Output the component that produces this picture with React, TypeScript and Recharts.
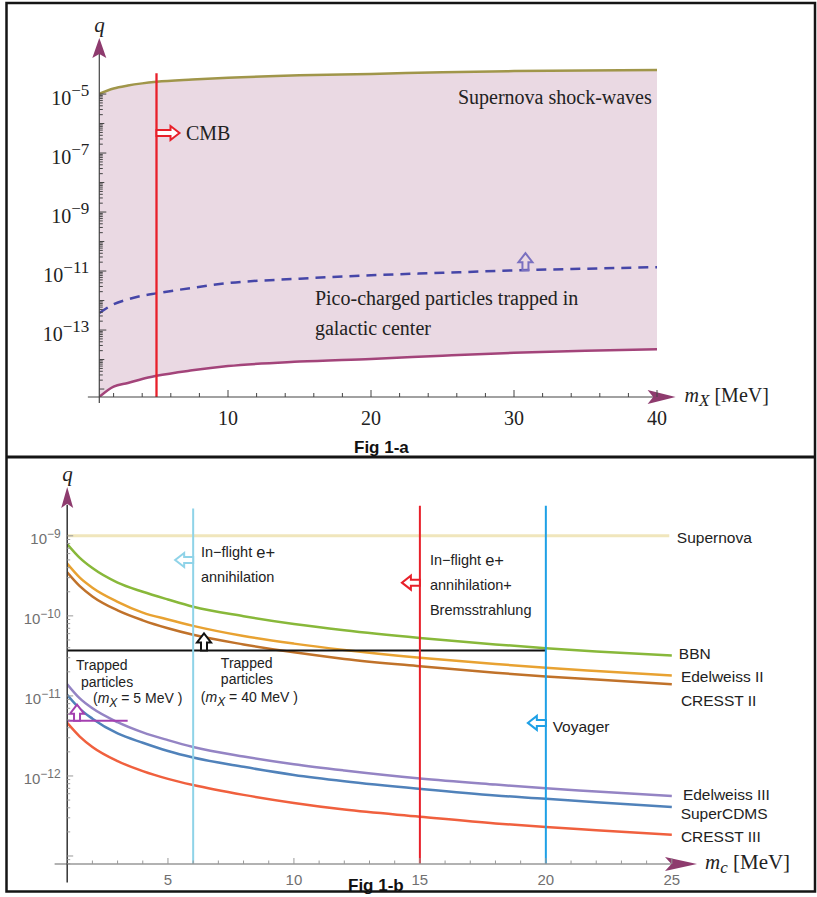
import React from "react";
import {
  Area,
  ComposedChart,
  Line,
  ReferenceDot,
  ReferenceLine,
  XAxis,
  YAxis,
} from "recharts";

const SERIF = "'Liberation Serif', 'Times New Roman', serif";
const SANS = "'Liberation Sans', Arial, sans-serif";

// ---------- Fig 1-a : q vs m_X ----------
const MX = [1, 2, 3, 4, 5, 7.5, 10, 15, 20, 25, 30, 35, 40];
const SN_SHOCK = [1.02e-5, 1.55e-5, 1.95e-5, 2.3e-5, 2.6e-5, 3.1e-5, 3.55e-5, 4.3e-5, 4.8e-5, 5.5e-5, 6.0e-5, 6.3e-5, 6.5e-5];
const PICO_GC = [3.8e-13, 7.5e-13, 1.1e-12, 1.45e-12, 1.75e-12, 2.7e-12, 3.9e-12, 5.5e-12, 7.2e-12, 8.7e-12, 1.05e-11, 1.2e-11, 1.35e-11];
const TRAPPED_LOW = [5.4e-16, 1.2e-15, 1.6e-15, 2.2e-15, 2.8e-15, 4.3e-15, 6.0e-15, 8.5e-15, 1.05e-14, 1.35e-14, 1.7e-14, 2.0e-14, 2.25e-14];
const CMB_MASS = 5;
const CMB_TOP = 5.1e-5;

const A_X_DOMAIN = [1, 41.3];
const A_Y_DOMAIN = [Math.pow(10, -15.27), Math.pow(10, -3.1)];
const A_X_TICKS = [2, 4, 6, 8, 10, 12, 14, 16, 18, 20, 22, 24, 26, 28, 30, 32, 34, 36, 38, 40];
const A_X_LABELS = [10, 20, 30, 40];
const A_Y_DECADES = [-15, -14, -13, -12, -11, -10, -9, -8, -7, -6, -5];
const A_Y_LABELS = [-13, -11, -9, -7, -5];

// ---------- Fig 1-b : q vs m_c ----------
const MC = [1, 1.5, 2, 3, 4, 5, 6, 8, 10, 12, 15, 18, 20, 22, 25];
const BBN = [7.9e-10, 5.3e-10, 3.95e-10, 2.6e-10, 2.0e-10, 1.6e-10, 1.3e-10, 9.9e-11, 7.9e-11, 6.6e-11, 5.3e-11, 4.4e-11, 3.95e-11, 3.6e-11, 3.2e-11];
const EDELWEISS_II = [4.5e-10, 3.0e-10, 2.25e-10, 1.5e-10, 1.1e-10, 9.0e-11, 7.5e-11, 5.6e-11, 4.5e-11, 3.75e-11, 3.0e-11, 2.5e-11, 2.25e-11, 2.05e-11, 1.8e-11];
const CRESST_II = [3.5e-10, 2.35e-10, 1.75e-10, 1.17e-10, 8.8e-11, 7.0e-11, 5.8e-11, 4.4e-11, 3.5e-11, 2.9e-11, 2.35e-11, 1.95e-11, 1.75e-11, 1.6e-11, 1.4e-11];
const EDELWEISS_III = [1.4e-11, 9.3e-12, 7.0e-12, 4.7e-12, 3.5e-12, 2.8e-12, 2.3e-12, 1.75e-12, 1.4e-12, 1.17e-12, 9.3e-13, 7.8e-13, 7.0e-13, 6.4e-13, 5.6e-13];
const SUPER_CDMS = [1.03e-11, 6.9e-12, 5.2e-12, 3.4e-12, 2.6e-12, 2.05e-12, 1.7e-12, 1.3e-12, 1.03e-12, 8.6e-13, 6.9e-13, 5.7e-13, 5.2e-13, 4.7e-13, 4.1e-13];
const CRESST_III = [4.6e-12, 3.1e-12, 2.3e-12, 1.53e-12, 1.15e-12, 9.2e-13, 7.7e-13, 5.8e-13, 4.6e-13, 3.8e-13, 3.1e-13, 2.55e-13, 2.3e-13, 2.1e-13, 1.84e-13];
const SUPERNOVA_Q = 1e-9;
const SUPERNOVA_END = 24.9;
const TRAPPED_40_Q = 3.7e-11; // m_X = 40 MeV bound, drawn up to Voyager
const TRAPPED_5_Q = 4.9e-12; // m_X = 5 MeV bound
const TRAPPED_5_END = 3.4;
const INFLIGHT_MASS = 6;
const BREMS_MASS = 15;
const VOYAGER_MASS = 20;

const B_X_DOMAIN = [1, 26];
const B_Y_DOMAIN = [Math.pow(10, -13.1), Math.pow(10, -8.39)];
const B_X_TICKS = [2, 3, 4, 5, 6, 7, 8, 9, 10, 11, 12, 13, 14, 15, 16, 17, 18, 19, 20, 21, 22, 23, 24, 25];
const B_X_LABELS = [5, 10, 15, 20, 25];
const B_Y_DECADES = [-14, -13, -12, -11, -10, -9];
const B_Y_LABELS = [-12, -11, -10, -9];

function logTicks(decades: number[], domain: number[]) {
  const out: number[] = [];
  decades.forEach((d, i) => {
    out.push(Math.pow(10, d));
    if (i < decades.length - 1) {
      for (let k = 2; k <= 9; k++) out.push(k * Math.pow(10, d));
    }
  });
  return out.filter((v) => v >= domain[0] && v <= domain[1]);
}

const aRows = MX.map((m, i) => ({ m, band: [TRAPPED_LOW[i], SN_SHOCK[i]] }));
const aLine = (vals: number[]) => MX.map((m, i) => ({ m, q: vals[i] }));
const bLine = (vals: number[]) => MC.map((m, i) => ({ m, q: vals[i] }));

function decadeOf(v: number) {
  const lg = Math.log10(v);
  const d = Math.round(lg);
  return { d, isDecade: Math.abs(lg - d) < 1e-6 };
}

// ---------- tick renderers (Mathematica style: ticks point inward) ----------
function AXTick(p: any) {
  const v = p.payload.value;
  const major = v % 10 === 0;
  return (
    <g>
      <line x1={p.x} x2={p.x} y1={p.y} y2={p.y - (major ? 7 : 4)} stroke="#444" strokeWidth={1} />
      {A_X_LABELS.includes(v) && (
        <text x={p.x} y={p.y + 28} textAnchor="middle" fontFamily={SERIF} fontSize={20} fill="#222">
          {v}
        </text>
      )}
    </g>
  );
}

function AYTick(p: any) {
  const { d, isDecade } = decadeOf(p.payload.value);
  const labelled = isDecade && A_Y_LABELS.includes(d);
  return (
    <g>
      <line x1={p.x} x2={p.x + (labelled ? 7 : isDecade ? 5 : 3.5)} y1={p.y} y2={p.y} stroke="#444" strokeWidth={1} />
      {labelled && (
        <text x={p.x - 10} y={p.y + 10.5} textAnchor="end" fontFamily={SERIF} fontSize={20} fill="#222">
          <tspan>10</tspan>
          <tspan dy={-9} fontSize={17}>{`\u2212${-d}`}</tspan>
        </text>
      )}
    </g>
  );
}

function BXTick(p: any) {
  const v = p.payload.value;
  const major = v % 5 === 0;
  return (
    <g>
      <line x1={p.x} x2={p.x} y1={p.y} y2={p.y - (major ? 6 : 3.5)} stroke="#999" strokeWidth={1} />
      {B_X_LABELS.includes(v) && (
        <text x={p.x} y={p.y + 21} textAnchor="middle" fontFamily={SANS} fontSize={15} fill="#707070">
          {v}
        </text>
      )}
    </g>
  );
}

function BYTick(p: any) {
  const { d, isDecade } = decadeOf(p.payload.value);
  const labelled = isDecade && B_Y_LABELS.includes(d);
  return (
    <g>
      <line x1={p.x} x2={p.x + (isDecade ? 6 : 3)} y1={p.y} y2={p.y} stroke="#999" strokeWidth={1} />
      {labelled && (
        <text x={p.x - 6.5} y={p.y + 8} textAnchor="end" fontFamily={SANS} fontSize={15} fill="#707070">
          <tspan>10</tspan>
          <tspan dy={-6} fontSize={12}>{`\u2212${-d}`}</tspan>
        </text>
      )}
    </g>
  );
}

// ---------- annotation shapes ----------
const axisHead = (angle: number, len: number, half: number, color: string) => (p: any) => (
  <path
    transform={`translate(${p.cx},${p.cy}) rotate(${angle})`}
    d={`M0,0 L${-len},${-half} L${-len * 0.8},0 L${-len},${half} Z`}
    fill={color}
  />
);

const hollowArrow = (angle: number, len: number, color: string, fill = "none") => (p: any) => (
  <path
    transform={`translate(${p.cx},${p.cy}) rotate(${angle})`}
    d={`M0,-3 L${len - 9},-3 L${len - 9},-7 L${len},0 L${len - 9},7 L${len - 9},3 L0,3 Z`}
    fill={fill}
    stroke={color}
    strokeWidth={2}
  />
);

type Row = { t: React.ReactNode; dx?: number; dy?: number };
const textRows = (rows: Row[], font: string, size: number, color: string, italic = false) => (p: any) => (
  <g>
    {rows.map((r, i) => (
      <text
        key={i}
        x={p.cx + (r.dx ?? 0)}
        y={p.cy + (r.dy ?? 0)}
        dominantBaseline="central"
        fontFamily={font}
        fontSize={size}
        fontStyle={italic ? "italic" : "normal"}
        fill={color}
      >
        {r.t}
      </text>
    ))}
  </g>
);

const mark = (key: string, x: number, y: number, shape: any) => (
  <ReferenceDot key={key} x={x} y={y} r={0} ifOverflow="visible" shape={shape} />
);

const mSub = (sub: string, size: number) => (
  <>
    <tspan fontStyle="italic">m</tspan>
    <tspan fontStyle="italic" fontSize={size} dy={5}>
      {sub}
    </tspan>
  </>
);

function FigA() {
  const [x0, x1] = A_X_DOMAIN;
  const [y0, y1] = A_Y_DOMAIN;
  return (
    <ComposedChart width={817} height={457} margin={{ top: 38, right: 141.4, bottom: 59, left: 98.3 }}>
      <XAxis
        type="number"
        dataKey="m"
        domain={A_X_DOMAIN}
        allowDataOverflow
        ticks={A_X_TICKS}
        interval={0}
        tick={(p: any) => <AXTick {...p} />}
        tickLine={false}
        axisLine={false}
        tickSize={0}
        tickMargin={0}
        height={1}
      />
      <YAxis
        type="number"
        scale="log"
        domain={A_Y_DOMAIN}
        allowDataOverflow
        ticks={logTicks(A_Y_DECADES, A_Y_DOMAIN)}
        interval={0}
        tick={(p: any) => <AYTick {...p} />}
        tickLine={false}
        axisLine={false}
        tickSize={0}
        tickMargin={0}
        width={1}
      />
      <Area data={aRows} dataKey="band" stroke="none" fill="#ead9e3" fillOpacity={1} isAnimationActive={false} />
      <Line data={aLine(SN_SHOCK)} dataKey="q" type="monotone" stroke="#a0964a" strokeWidth={2.5} dot={false} isAnimationActive={false} />
      <Line data={aLine(PICO_GC)} dataKey="q" type="monotone" stroke="#4646a8" strokeWidth={2.5} strokeDasharray="10 7" dot={false} isAnimationActive={false} />
      <Line data={aLine(TRAPPED_LOW)} dataKey="q" type="monotone" stroke="#a3447a" strokeWidth={2.5} dot={false} isAnimationActive={false} />
      <ReferenceLine segment={[{ x: CMB_MASS, y: CMB_TOP }, { x: CMB_MASS, y: y0 }]} stroke="#e8202a" strokeWidth={2.3} ifOverflow="visible" />

      {/* axes */}
      <ReferenceLine segment={[{ x: 0.2, y: y0 }, { x: x1 - 1, y: y0 }]} stroke="#444" strokeWidth={1.2} ifOverflow="visible" />
      <ReferenceLine segment={[{ x: x0, y: Math.pow(10, -15.47) }, { x: x0, y: y1 * 0.3 }]} stroke="#444" strokeWidth={1.2} ifOverflow="visible" />
      {mark("ax", x1, y0, axisHead(0, 28, 7, "#8e3b6e"))}
      {mark("ay", x0, y1, axisHead(-90, 20, 7, "#8e3b6e"))}
      {mark("qa", x0, y1, textRows([{ t: "q", dy: -13, dx: -5 }], SERIF, 21, "#222", true))}
      {mark(
        "mx",
        x1,
        y0,
        textRows([{ t: <>{mSub("X", 17)}<tspan dy={-5}> [MeV]</tspan></>, dx: 9, dy: -2 }], SERIF, 20, "#222")
      )}

      {/* annotations */}
      {mark("cmbArrow", CMB_MASS, 4.8e-7, hollowArrow(0, 23, "#e8202a", "#fff"))}
      {mark("cmb", 7.06, 4.8e-7, textRows([{ t: "CMB" }], SERIF, 20, "#222"))}
      {mark("sn", 26.08, 7.9e-6, textRows([{ t: "Supernova shock-waves" }], SERIF, 20, "#222"))}
      {mark(
        "pico",
        16.08,
        1.2e-12,
        textRows([{ t: "Pico-charged particles trapped in" }, { t: "galactic center", dy: 30 }], SERIF, 20, "#222")
      )}
      {mark("picoArrow", 30.8, 1.07e-11, hollowArrow(-90, 17, "#7a70c0"))}
    </ComposedChart>
  );
}

function FigB() {
  const [x0, x1] = B_X_DOMAIN;
  const [y0, y1] = B_Y_DOMAIN;
  const curve = (vals: number[], color: string) => (
    <Line data={bLine(vals)} dataKey="q" type="monotone" stroke={color} strokeWidth={2.5} dot={false} isAnimationActive={false} />
  );
  const lbl = (key: string, x: number, y: number, t: React.ReactNode) =>
    mark(key, x, y, textRows([{ t }], SANS, 15.5, "#222"));
  const eplus = <>In{"\u2212"}flight <tspan fontSize={16.5}>e+</tspan></>;
  return (
    <ComposedChart width={817} height={440} margin={{ top: 30, right: 120, bottom: 32, left: 66.2 }}>
      <XAxis
        type="number"
        dataKey="m"
        domain={B_X_DOMAIN}
        allowDataOverflow
        ticks={B_X_TICKS}
        interval={0}
        tick={(p: any) => <BXTick {...p} />}
        tickLine={false}
        axisLine={false}
        tickSize={0}
        tickMargin={0}
        height={1}
      />
      <YAxis
        type="number"
        scale="log"
        domain={B_Y_DOMAIN}
        allowDataOverflow
        ticks={logTicks(B_Y_DECADES, B_Y_DOMAIN)}
        interval={0}
        tick={(p: any) => <BYTick {...p} />}
        tickLine={false}
        axisLine={false}
        tickSize={0}
        tickMargin={0}
        width={1}
      />
      <ReferenceLine segment={[{ x: x0, y: SUPERNOVA_Q }, { x: SUPERNOVA_END, y: SUPERNOVA_Q }]} stroke="#f0e6bc" strokeWidth={3} ifOverflow="visible" />
      {curve(BBN, "#88b83a")}
      {curve(EDELWEISS_II, "#e8a232")}
      {curve(CRESST_II, "#c0722a")}
      {curve(EDELWEISS_III, "#9484c4")}
      {curve(SUPER_CDMS, "#5082ba")}
      {curve(CRESST_III, "#f0603e")}
      <ReferenceLine segment={[{ x: x0, y: TRAPPED_40_Q }, { x: VOYAGER_MASS, y: TRAPPED_40_Q }]} stroke="#111" strokeWidth={2} ifOverflow="visible" />
      <ReferenceLine segment={[{ x: x0, y: TRAPPED_5_Q }, { x: TRAPPED_5_END, y: TRAPPED_5_Q }]} stroke="#a440b0" strokeWidth={2} ifOverflow="visible" />
      <ReferenceLine segment={[{ x: INFLIGHT_MASS, y: 2.2e-9 }, { x: INFLIGHT_MASS, y: y0 }]} stroke="#8fd3e8" strokeWidth={2} ifOverflow="visible" />
      <ReferenceLine segment={[{ x: BREMS_MASS, y: 2.37e-9 }, { x: BREMS_MASS, y: y0 }]} stroke="#e8202a" strokeWidth={2} ifOverflow="visible" />
      <ReferenceLine segment={[{ x: VOYAGER_MASS, y: 2.37e-9 }, { x: VOYAGER_MASS, y: y0 }]} stroke="#1ea0e6" strokeWidth={2} ifOverflow="visible" />

      {/* axes */}
      <ReferenceLine segment={[{ x: 0.5, y: y0 }, { x: x1 - 1, y: y0 }]} stroke="#999" strokeWidth={1.5} ifOverflow="visible" />
      <ReferenceLine segment={[{ x: x0, y: Math.pow(10, -13.33) }, { x: x0, y: y1 * 0.6 }]} stroke="#333" strokeWidth={1.5} ifOverflow="visible" />
      {mark("ax", x1, y0, axisHead(0, 32, 7, "#8e3b6e"))}
      {mark("ay", x0, y1, axisHead(-90, 21, 6, "#8e3b6e"))}
      {mark("qb", x0, y1, textRows([{ t: "q", dy: -13, dx: -5 }], SERIF, 21, "#222", true))}
      {mark(
        "mc",
        x1,
        y0,
        textRows([{ t: <>{mSub("c", 17)}<tspan dy={-5}> [MeV]</tspan></>, dx: 8, dy: -2 }], SERIF, 21, "#222")
      )}

      {/* arrows */}
      {mark("a1", INFLIGHT_MASS, 5.0e-10, hollowArrow(180, 18, "#8fd3e8", "#fff"))}
      {mark("a2", BREMS_MASS, 2.6e-10, hollowArrow(180, 18, "#e8202a", "#fff"))}
      {mark("a3", VOYAGER_MASS, 4.6e-12, hollowArrow(180, 18, "#1ea0e6", "#fff"))}
      {mark("a4", 6.43, TRAPPED_40_Q, hollowArrow(-90, 17, "#111", "#fff"))}
      {mark("a5", 1.39, TRAPPED_5_Q, hollowArrow(-90, 16, "#a440b0", "#fff"))}

      {/* texts */}
      {mark("t1", 6.31, 6.3e-10, textRows([{ t: eplus }, { t: "annihilation", dy: 25 }], SANS, 14.5, "#222"))}
      {mark(
        "t2",
        15.4,
        5.0e-10,
        textRows([{ t: eplus }, { t: "annihilation+", dy: 25 }, { t: "Bremsstrahlung", dy: 50 }], SANS, 14.5, "#222")
      )}
      {lbl("supernova", 25.2, 9.4e-10, "Supernova")}
      {lbl("bbn", 25.28, 3.35e-11, "BBN")}
      {lbl("edw2", 25.36, 1.74e-11, "Edelweiss II")}
      {lbl("cresst2", 25.36, 8.7e-12, "CRESST II")}
      {lbl("voyager", 20.27, 4.2e-12, "Voyager")}
      {lbl("edw3", 25.44, 5.9e-13, "Edelweiss III")}
      {lbl("scdms", 25.35, 3.4e-13, "SuperCDMS")}
      {lbl("cresst3", 25.36, 1.74e-13, "CRESST III")}
      {mark(
        "trap5",
        1.35,
        2.44e-11,
        textRows(
          [
            { t: "Trapped" },
            { t: "particles", dx: 5, dy: 17 },
            { t: <>({mSub("X", 12)}<tspan dy={-5}> = 5 MeV )</tspan></>, dx: 17, dy: 33 },
          ],
          SANS,
          14,
          "#222"
        )
      )}
      {mark(
        "trap40",
        7.1,
        2.58e-11,
        textRows(
          [
            { t: "Trapped" },
            { t: "particles", dy: 16 },
            { t: <>({mSub("X", 12)}<tspan dy={-5}>  =  40 MeV )</tspan></>, dx: -20, dy: 34 },
          ],
          SANS,
          14,
          "#222"
        )
      )}
    </ComposedChart>
  );
}

export default function App() {
  return (
    <div style={{ position: "absolute", left: 0, top: 0, width: 817, height: 897, background: "#fff", overflow: "hidden" }}>
      <div style={{ position: "absolute", left: 0, top: 0 }}>
        <FigA />
      </div>
      <div style={{ position: "absolute", left: 0, top: 457 }}>
        <FigB />
      </div>
      <svg width={817} height={897} style={{ position: "absolute", left: 0, top: 0, pointerEvents: "none" }}>
        <rect x={6.5} y={3} width={808.5} height={888.5} fill="none" stroke="#151515" strokeWidth={2.5} />
        <line x1={6.5} x2={815} y1={457} y2={457} stroke="#151515" strokeWidth={3} />
        <text x={354} y={453} fontFamily={SANS} fontWeight="bold" fontSize={17} fill="#111">
          Fig 1-a
        </text>
        <text x={348} y={891} fontFamily={SANS} fontWeight="bold" fontSize={17} fill="#111">
          Fig 1-b
        </text>
      </svg>
    </div>
  );
}
